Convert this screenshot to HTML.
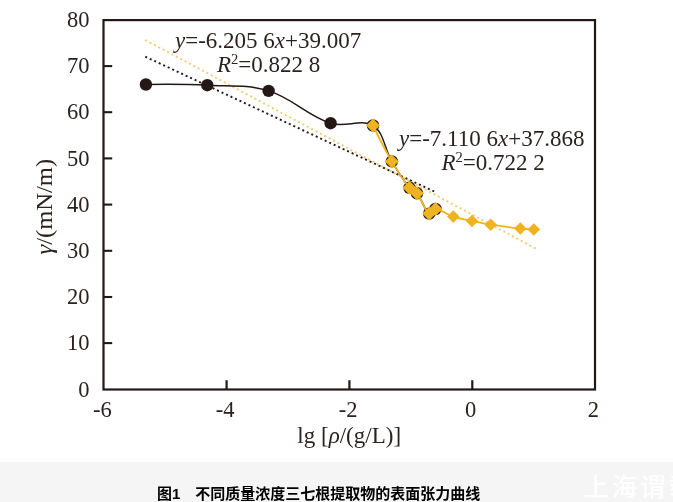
<!DOCTYPE html>
<html lang="zh"><head><meta charset="utf-8"><title>图1</title>
<style>
html,body{margin:0;padding:0;background:#fff}
body{width:673px;height:502px;position:relative;overflow:hidden}
.band{position:absolute;left:0;top:462px;width:673px;height:40px;background:#f5f5f5}
.cap{position:absolute;left:157px;top:485px;white-space:nowrap;font-family:"Liberation Sans","Noto Sans CJK SC",sans-serif;font-weight:bold;font-size:15px;color:#000;line-height:18px}
.wm{position:absolute;left:583.5px;top:470px;white-space:nowrap;font-family:"Liberation Sans","Noto Sans CJK SC",sans-serif;font-weight:500;font-size:25.5px;color:#fefefe;line-height:34px;letter-spacing:2.8px}
</style></head><body>
<svg width="673" height="462" viewBox="0 0 673 462" style="position:absolute;left:0;top:0">
<line x1="145.3" y1="56.7" x2="434.1" y2="191.4" stroke="#231815" stroke-width="1.9" stroke-dasharray="2 2.95"/>
<line x1="145.3" y1="40.0" x2="535.8" y2="248.6" stroke="#F1CC70" stroke-width="1.9" stroke-dasharray="2 2.95"/>
<path d="M145.9 84.5 C145.9 84.5 184.6 84.0 207.3 85.2 C230.0 86.4 247.2 84.3 268.6 90.9 C292.9 98.4 306.6 115.2 330.6 123.2 C345.2 128.0 361.4 118.3 373.0 125.5 C384.1 132.4 384.2 148.5 391.8 161.4 C397.7 171.5 402.3 178.7 409.5 187.8 C411.6 190.5 414.9 190.6 417.0 193.3 C422.2 200.2 424.1 209.2 429.2 213.6 C430.9 215.0 435.5 209.0 435.5 209.0" fill="none" stroke="#231815" stroke-width="1.5"/>
<circle cx="145.9" cy="84.5" r="6.2" fill="#231815"/>
<circle cx="207.3" cy="85.2" r="6.2" fill="#231815"/>
<circle cx="268.6" cy="90.9" r="6.2" fill="#231815"/>
<circle cx="330.6" cy="123.2" r="6.2" fill="#231815"/>
<circle cx="373.0" cy="125.5" r="6.2" fill="#231815"/>
<circle cx="391.8" cy="161.4" r="6.2" fill="#231815"/>
<circle cx="409.5" cy="187.8" r="6.2" fill="#231815"/>
<circle cx="417.0" cy="193.3" r="6.2" fill="#231815"/>
<circle cx="429.2" cy="213.6" r="6.2" fill="#231815"/>
<circle cx="435.5" cy="209.0" r="6.2" fill="#231815"/>
<path d="M373.0 125.5 C373.0 125.5 384.2 148.5 391.8 161.4 C397.7 171.5 402.3 178.7 409.5 187.8 C411.6 190.5 414.9 190.6 417.0 193.3 C422.2 200.2 424.1 209.2 429.2 213.6 C430.9 215.0 432.9 208.7 435.5 209.0 C441.9 209.8 446.5 214.4 453.3 216.6 C460.0 218.8 465.1 219.5 472.0 221.0 C478.9 222.5 483.7 223.6 490.7 224.7 C501.6 226.4 509.3 227.3 520.3 228.5 C525.3 229.1 533.8 229.5 533.8 229.5" fill="none" stroke="#EFB321" stroke-width="1.8"/>
<path d="M373.0 118.6L379.9 125.5L373.0 132.4L366.1 125.5Z" fill="#EFB321"/>
<path d="M391.8 154.5L398.7 161.4L391.8 168.3L384.9 161.4Z" fill="#EFB321"/>
<path d="M409.5 180.9L416.4 187.8L409.5 194.7L402.6 187.8Z" fill="#EFB321"/>
<path d="M417.0 186.4L423.9 193.3L417.0 200.2L410.1 193.3Z" fill="#EFB321"/>
<path d="M429.2 206.7L436.1 213.6L429.2 220.5L422.3 213.6Z" fill="#EFB321"/>
<path d="M435.5 202.1L442.4 209.0L435.5 215.9L428.6 209.0Z" fill="#EFB321"/>
<path d="M453.3 210.3L459.6 216.6L453.3 222.9L447.0 216.6Z" fill="#EFB321"/>
<path d="M472.0 214.7L478.3 221.0L472.0 227.3L465.7 221.0Z" fill="#EFB321"/>
<path d="M490.7 218.4L497.0 224.7L490.7 231.0L484.4 224.7Z" fill="#EFB321"/>
<path d="M520.3 222.2L526.6 228.5L520.3 234.8L514.0 228.5Z" fill="#EFB321"/>
<path d="M533.8 223.2L540.1 229.5L533.8 235.8L527.5 229.5Z" fill="#EFB321"/>
<rect x="103.5" y="20.1" width="491.5" height="369.4" fill="none" stroke="#231815" stroke-width="2.2"/>
<line x1="103.5" y1="343.1" x2="112.2" y2="343.1" stroke="#231815" stroke-width="2.1"/>
<line x1="103.5" y1="297.0" x2="112.2" y2="297.0" stroke="#231815" stroke-width="2.1"/>
<line x1="103.5" y1="250.8" x2="112.2" y2="250.8" stroke="#231815" stroke-width="2.1"/>
<line x1="103.5" y1="204.6" x2="112.2" y2="204.6" stroke="#231815" stroke-width="2.1"/>
<line x1="103.5" y1="158.4" x2="112.2" y2="158.4" stroke="#231815" stroke-width="2.1"/>
<line x1="103.5" y1="112.2" x2="112.2" y2="112.2" stroke="#231815" stroke-width="2.1"/>
<line x1="103.5" y1="66.1" x2="112.2" y2="66.1" stroke="#231815" stroke-width="2.1"/>
<line x1="226.6" y1="389.5" x2="226.6" y2="380.2" stroke="#231815" stroke-width="2.2"/>
<line x1="349.4" y1="389.5" x2="349.4" y2="380.2" stroke="#231815" stroke-width="2.2"/>
<line x1="472.3" y1="389.5" x2="472.3" y2="380.2" stroke="#231815" stroke-width="2.2"/>
<text transform="translate(89.5,396.5)  scale(1.000,1)" text-anchor="end" style="font-family:'Liberation Serif',serif;font-size:22.5px;fill:#2b2220">0</text>
<text transform="translate(89.5,350.3)  scale(1.000,1)" text-anchor="end" style="font-family:'Liberation Serif',serif;font-size:22.5px;fill:#2b2220">10</text>
<text transform="translate(89.5,304.2)  scale(1.000,1)" text-anchor="end" style="font-family:'Liberation Serif',serif;font-size:22.5px;fill:#2b2220">20</text>
<text transform="translate(89.5,258.0)  scale(1.000,1)" text-anchor="end" style="font-family:'Liberation Serif',serif;font-size:22.5px;fill:#2b2220">30</text>
<text transform="translate(89.5,211.8)  scale(1.000,1)" text-anchor="end" style="font-family:'Liberation Serif',serif;font-size:22.5px;fill:#2b2220">40</text>
<text transform="translate(89.5,165.6)  scale(1.000,1)" text-anchor="end" style="font-family:'Liberation Serif',serif;font-size:22.5px;fill:#2b2220">50</text>
<text transform="translate(89.5,119.4)  scale(1.000,1)" text-anchor="end" style="font-family:'Liberation Serif',serif;font-size:22.5px;fill:#2b2220">60</text>
<text transform="translate(89.5,73.3)  scale(1.000,1)" text-anchor="end" style="font-family:'Liberation Serif',serif;font-size:22.5px;fill:#2b2220">70</text>
<text transform="translate(89.5,27.1)  scale(1.000,1)" text-anchor="end" style="font-family:'Liberation Serif',serif;font-size:22.5px;fill:#2b2220">80</text>
<text transform="translate(102.3,417.2)  scale(1.000,1)" text-anchor="middle" style="font-family:'Liberation Serif',serif;font-size:22.5px;fill:#2b2220">-6</text>
<text transform="translate(225.2,417.2)  scale(1.000,1)" text-anchor="middle" style="font-family:'Liberation Serif',serif;font-size:22.5px;fill:#2b2220">-4</text>
<text transform="translate(348.1,417.2)  scale(1.000,1)" text-anchor="middle" style="font-family:'Liberation Serif',serif;font-size:22.5px;fill:#2b2220">-2</text>
<text transform="translate(470.5,417.2)  scale(1.000,1)" text-anchor="middle" style="font-family:'Liberation Serif',serif;font-size:22.5px;fill:#2b2220">0</text>
<text transform="translate(593.4,417.2)  scale(1.000,1)" text-anchor="middle" style="font-family:'Liberation Serif',serif;font-size:22.5px;fill:#2b2220">2</text>
<text transform="translate(349.2,443.0)  scale(1.000,1)" text-anchor="middle" style="font-family:'Liberation Serif',serif;font-size:23.0px;fill:#2b2220">lg [<tspan font-style="italic">ρ</tspan>/(g/L)]</text>
<text transform="translate(52.0,206.7) rotate(-90) scale(1.070,1)" text-anchor="middle" style="font-family:'Liberation Serif',serif;font-size:23.0px;fill:#2b2220"><tspan font-style="italic">γ</tspan>/(mN/m)</text>
<text transform="translate(175.0,48.2)  scale(1.000,1)" text-anchor="start" style="font-family:'Liberation Serif',serif;font-size:23.0px;fill:#2b2220"><tspan font-style="italic">y</tspan>=-6.205 6<tspan font-style="italic">x</tspan>+39.007</text>
<text transform="translate(217.0,72.3)  scale(1.000,1)" text-anchor="start" style="font-family:'Liberation Serif',serif;font-size:23.0px;fill:#2b2220"><tspan font-style="italic">R</tspan><tspan font-size="14.5" dy="-8">2</tspan><tspan dy="8">=0.822 8</tspan></text>
<text transform="translate(399.0,146.2)  scale(1.000,1)" text-anchor="start" style="font-family:'Liberation Serif',serif;font-size:23.0px;fill:#2b2220"><tspan font-style="italic">y</tspan>=-7.110 6<tspan font-style="italic">x</tspan>+37.868</text>
<text transform="translate(441.5,170.2)  scale(1.000,1)" text-anchor="start" style="font-family:'Liberation Serif',serif;font-size:23.0px;fill:#2b2220"><tspan font-style="italic">R</tspan><tspan font-size="14.5" dy="-8">2</tspan><tspan dy="8">=0.722 2</tspan></text>
</svg>
<div class="band"></div>
<div class="cap">图1　不同质量浓度三七根提取物的表面张力曲线</div>
<div class="wm">上海谓载</div>
</body></html>
